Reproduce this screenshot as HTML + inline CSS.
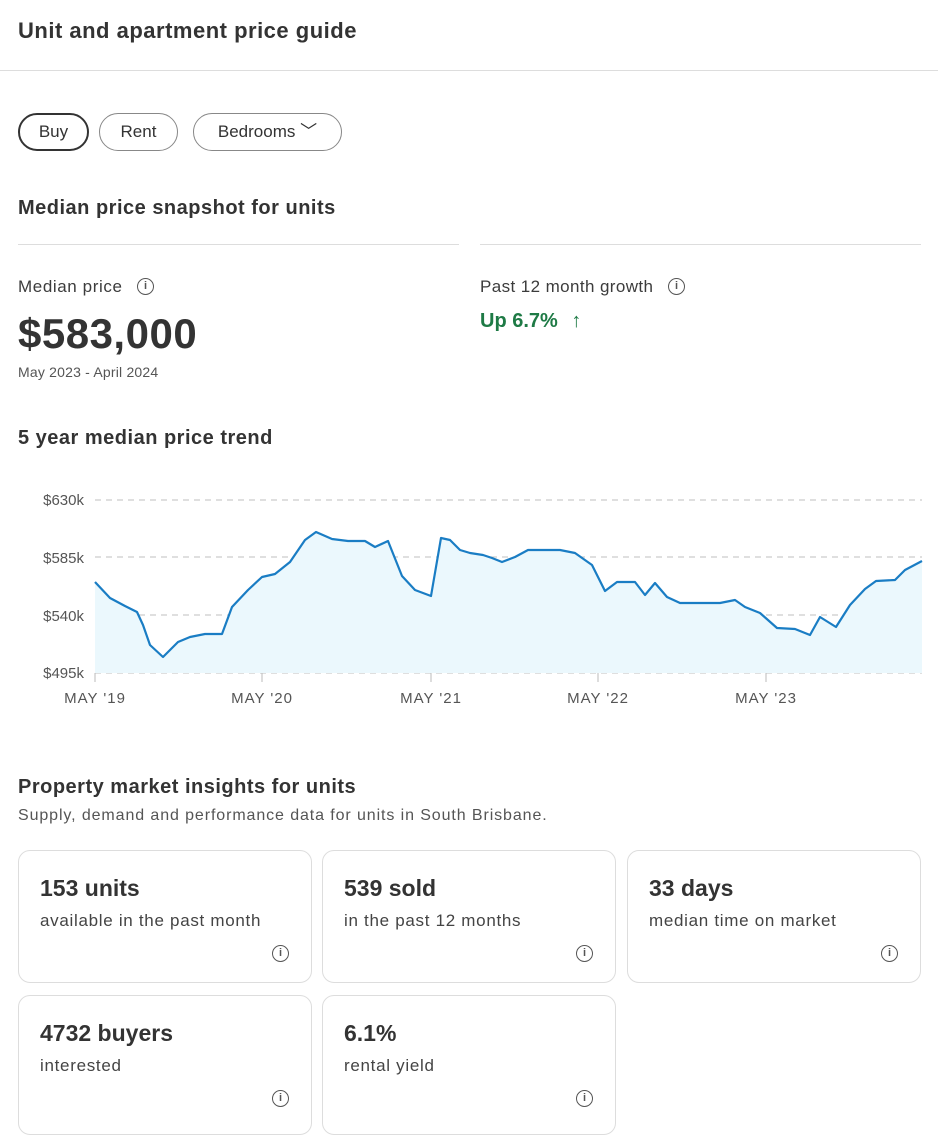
<!DOCTYPE html><html><head><meta charset="utf-8"><style>
body{margin:0;width:938px;height:1124px;overflow:hidden;background:#fff;font-family:"Liberation Sans",sans-serif;color:#3c3c3c;position:relative}
.a{position:absolute}
.h{font-weight:bold;color:#333;letter-spacing:0.5px}
.pill{position:absolute;top:113px;height:38px;border:1px solid #888;border-radius:20px;box-sizing:border-box;font-size:17px;line-height:36px;text-align:center;color:#333}
.card{position:absolute;border:1px solid #ddd;border-radius:12px;box-sizing:border-box;width:294px}
.card b{position:absolute;left:21px;top:24px;font-size:23px;color:#333;letter-spacing:0px}
.card span{position:absolute;left:21px;top:60px;font-size:17px;color:#444;letter-spacing:0.7px}
.i{position:absolute;width:15px;height:15px;border:1.5px solid #555;border-radius:50%;font-size:11px;line-height:15px;text-align:center;font-weight:bold;color:#555}
</style></head><body>
<div class="a h" style="left:18px;top:18px;font-size:22px">Unit and apartment price guide</div>
<div class="a" style="left:0;top:70px;width:938px;height:1px;background:#ddd"></div>
<div class="pill" style="left:18px;width:71px;border:2px solid #333;line-height:34px">Buy</div>
<div class="pill" style="left:99px;width:79px">Rent</div>
<div class="pill" style="left:193px;width:149px">Bedrooms ﹀</div>
<div class="a h" style="left:18px;top:197px;font-size:20px">Median price snapshot for units</div>
<div class="a" style="left:18px;top:244px;width:441px;height:1px;background:#ddd"></div>
<div class="a" style="left:480px;top:244px;width:441px;height:1px;background:#ddd"></div>
<div class="a" style="left:18px;top:277px;font-size:17px;letter-spacing:0.6px">Median price</div><div class="i" style="left:137px;top:278px">i</div>
<div class="a" style="left:18px;top:310px;font-size:42px;font-weight:bold;color:#333;letter-spacing:0.5px">$583,000</div>
<div class="a" style="left:18px;top:364px;font-size:14px;color:#555;letter-spacing:0.2px">May 2023 - April 2024</div>
<div class="a" style="left:480px;top:277px;font-size:17px;letter-spacing:0.4px">Past 12 month growth</div><div class="i" style="left:668px;top:278px">i</div>
<div class="a" style="left:480px;top:310px;font-size:20px;font-weight:bold;color:#1e7a45">Up 6.7% <span style="font-weight:normal;margin-left:8px">↑</span></div>
<div class="a h" style="left:18px;top:427px;font-size:20px">5 year median price trend</div>
<svg class="a" style="left:0;top:480px" width="938" height="240" viewBox="0 480 938 240">
<g font-size="15" fill="#555" text-anchor="end"><text x="84" y="505">$630k</text><text x="84" y="563">$585k</text><text x="84" y="621">$540k</text><text x="84" y="678">$495k</text></g>
<g stroke="#ccc" stroke-dasharray="6,5" stroke-width="1.3"><line x1="95" y1="500" x2="922" y2="500"/><line x1="95" y1="557" x2="922" y2="557"/><line x1="95" y1="615" x2="922" y2="615"/><line x1="95" y1="673" x2="922" y2="673"/></g>
<path fill="#ebf8fd" d="M95,582 L110,598 125,606 137,612 143,625 150,645 163,657 178,642 190,637 205,634 222,634 232,607 248,590 262,577 275,574 290,562 305,540 316,532 332,539 348,541 365,541 375,547 388,541 402,576 415,590 431,596 441,538 450,540 460,550 470,553 483,555 492,558 502,562 515,557 528,550 560,550 575,553 592,565 605,591 617,582 635,582 645,595 655,583 667,597 680,603 720,603 735,600 745,607 760,613 777,628 795,629 810,635 820,617 836,627 850,605 865,589 876,581 895,580 905,570 922,561 L922,673 95,673Z"/>
<path fill="none" stroke="#1a7dc4" stroke-width="2.2" stroke-linejoin="round" d="M95,582 L110,598 125,606 137,612 143,625 150,645 163,657 178,642 190,637 205,634 222,634 232,607 248,590 262,577 275,574 290,562 305,540 316,532 332,539 348,541 365,541 375,547 388,541 402,576 415,590 431,596 441,538 450,540 460,550 470,553 483,555 492,558 502,562 515,557 528,550 560,550 575,553 592,565 605,591 617,582 635,582 645,595 655,583 667,597 680,603 720,603 735,600 745,607 760,613 777,628 795,629 810,635 820,617 836,627 850,605 865,589 876,581 895,580 905,570 922,561"/>
<g stroke="#bbb"><line x1="95" y1="673" x2="95" y2="682"/><line x1="262" y1="673" x2="262" y2="682"/><line x1="431" y1="673" x2="431" y2="682"/><line x1="598" y1="673" x2="598" y2="682"/><line x1="766" y1="673" x2="766" y2="682"/></g>
<g font-size="15" fill="#555" text-anchor="middle" letter-spacing="1"><text x="95" y="703">MAY '19</text><text x="262" y="703">MAY '20</text><text x="431" y="703">MAY '21</text><text x="598" y="703">MAY '22</text><text x="766" y="703">MAY '23</text></g>
</svg>
<div class="a h" style="left:18px;top:776px;font-size:20px">Property market insights for units</div>
<div class="a" style="left:18px;top:807px;font-size:16px;color:#555;letter-spacing:0.9px">Supply, demand and performance data for units in South Brisbane.</div>
<div class="card" style="left:18px;top:850px;height:133px"><b>153 units</b><span>available in the past month</span><div class="i" style="left:253px;top:94px">i</div></div>
<div class="card" style="left:322px;top:850px;height:133px"><b>539 sold</b><span>in the past 12 months</span><div class="i" style="left:253px;top:94px">i</div></div>
<div class="card" style="left:627px;top:850px;height:133px"><b>33 days</b><span>median time on market</span><div class="i" style="left:253px;top:94px">i</div></div>
<div class="card" style="left:18px;top:995px;height:140px"><b>4732 buyers</b><span>interested</span><div class="i" style="left:253px;top:94px">i</div></div>
<div class="card" style="left:322px;top:995px;height:140px"><b>6.1%</b><span>rental yield</span><div class="i" style="left:253px;top:94px">i</div></div>
</body></html>
